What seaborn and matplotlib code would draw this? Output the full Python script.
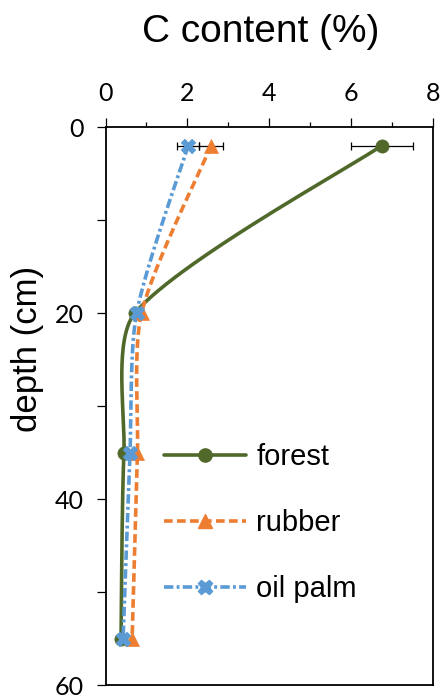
import numpy as np
import pandas as pd
import matplotlib
matplotlib.use("Agg")
import matplotlib.pyplot as plt
from matplotlib.lines import Line2D
from matplotlib.ticker import MultipleLocator
import seaborn as sns

# Soil profile: carbon content by sampling depth under three land uses
depth = [2, 20, 35, 55]
forest = [6.75, 0.72, 0.45, 0.38]
rubber = [2.58, 0.88, 0.78, 0.65]
oil_palm = [2.02, 0.76, 0.60, 0.43]
forest_err = [0.75, np.nan, np.nan, np.nan]
rubber_err = [0.30, np.nan, np.nan, np.nan]
oil_palm_err = [0.27, np.nan, np.nan, np.nan]

labels = ["forest", "rubber", "oil palm"]
x_ticks = [0, 2, 4, 6, 8]
y_ticks = [0, 20, 40, 60]

colors = {"forest": "#50692A", "rubber": "#ED7D31", "oil palm": "#5B9BD5"}
markers = {"forest": "o", "rubber": "^", "oil palm": "X"}
msizes = {"forest": 9.5, "rubber": 10, "oil palm": 10.5}
dashes = {"forest": (None, None), "rubber": (2.4, 1.2), "oil palm": (2.6, 0.9, 0.8, 0.9)}
LW = 2.6

sns.set_theme(style="ticks")
plt.rcParams["font.family"] = ["Liberation Sans", "DejaVu Sans"]
plt.rcParams.update({"text.color": "black", "axes.labelcolor": "black",
                     "xtick.color": "black", "ytick.color": "black"})

fig = plt.figure(figsize=(4.42, 6.99), dpi=100)
ax = fig.add_axes([0.2387, 0.020, 0.741, 0.7983])
ax.set_xlim(0, 8)
ax.set_ylim(60, 0)


def smooth_curve(ax, xs, ys, n=60):
    """Bezier smoothing in screen space with Catmull-Rom style tangents."""
    pts = ax.transData.transform(np.column_stack([xs, ys]))
    m = len(pts)
    seg = np.linalg.norm(np.diff(pts, axis=0), axis=1)
    out = [pts[:1]]
    t = np.linspace(0, 1, n)[1:, None]
    for i in range(m - 1):
        p0, p1 = pts[i], pts[i + 1]
        prev = pts[i - 1] if i > 0 else pts[i]
        nxt = pts[i + 2] if i + 2 < m else pts[i + 1]
        lp = seg[i - 1] if i > 0 else seg[i]
        ln = seg[i + 1] if i + 2 < m else seg[i]
        f0 = min(1.0, 1.6 * seg[i] / (lp + seg[i]))
        f1 = min(1.0, 1.6 * seg[i] / (seg[i] + ln))
        c0 = p0 + f0 * (p1 - prev) / 6
        c1 = p1 - f1 * (nxt - p0) / 6
        b = ((1 - t) ** 3) * p0 + 3 * ((1 - t) ** 2) * t * c0 + 3 * (1 - t) * t ** 2 * c1 + t ** 3 * p1
        out.append(b)
    curve = ax.transData.inverted().transform(np.vstack(out))
    return curve[:, 0], curve[:, 1]


series = {"forest": (forest, forest_err),
          "rubber": (rubber, rubber_err),
          "oil palm": (oil_palm, oil_palm_err)}

handles = []
for z, name in enumerate(labels):
    vals, err = series[name]
    cx, cy = smooth_curve(ax, vals, depth)
    curve = pd.DataFrame({"C": cx, "depth": cy})
    sns.lineplot(data=curve, x="C", y="depth", sort=False, orient="y",
                 color=colors[name], lw=LW, ax=ax, zorder=2 + z)
    line = ax.get_lines()[-1]
    if name != "forest":
        line.set_dashes(dashes[name])
    ax.errorbar(vals, depth, xerr=err, fmt="none", ecolor="black",
                elinewidth=0.9, capsize=3.2, capthick=0.9, zorder=2 + z)
    pts = pd.DataFrame({"C": vals, "depth": depth})
    sns.scatterplot(data=pts, x="C", y="depth", marker=markers[name],
                    s=msizes[name] ** 2, color=colors[name], edgecolor=colors[name],
                    linewidth=0.5, ax=ax, zorder=3 + z, legend=False)
    h = Line2D([], [], color=colors[name], lw=LW, marker=markers[name],
               markersize=msizes[name], markeredgecolor=colors[name])
    if name != "forest":
        h.set_dashes(dashes[name])
    handles.append(h)

ax.set_xlim(0, 8)
ax.set_ylim(60, 0)

# axis styling
ax.xaxis.tick_top()
ax.xaxis.set_label_position("top")
ax.set_xticks(x_ticks)
ax.xaxis.set_minor_locator(MultipleLocator(1))
ax.set_yticks(y_ticks)
ax.yaxis.set_minor_locator(MultipleLocator(10))
ax.tick_params(axis="x", which="major", direction="out", length=6.5, width=0.9,
               pad=9, labelsize=18, colors="black", top=True, bottom=False)
ax.tick_params(axis="x", which="minor", direction="out", length=3.5, width=0.9,
               top=True, bottom=False)
ax.tick_params(axis="y", which="both", direction="out", length=6.5, width=0.9,
               pad=9, labelsize=18, left=True, right=False)
for lab in ax.get_xticklabels() + ax.get_yticklabels():
    lab.set_fontfamily(["Lato", "DejaVu Sans"])
for sp in ax.spines.values():
    sp.set_visible(True)
    sp.set_color("black")
    sp.set_linewidth(1.3)

ax.set_xlabel("C content (%)", fontsize=28, va="center")
ax.xaxis.set_label_coords(0.473, 1.170)
ax.set_ylabel("depth (cm)", fontsize=25, va="center")
ax.yaxis.set_label_coords(-0.238, 0.602)

leg = ax.legend(handles, labels, loc="center left", bbox_to_anchor=(0.18, 0.290),
                frameon=False, fontsize=21, handlelength=2.8, handletextpad=0.35,
                labelspacing=1.3, borderpad=0, borderaxespad=0, numpoints=1)

fig.savefig("out.png", dpi=100, facecolor="white")
